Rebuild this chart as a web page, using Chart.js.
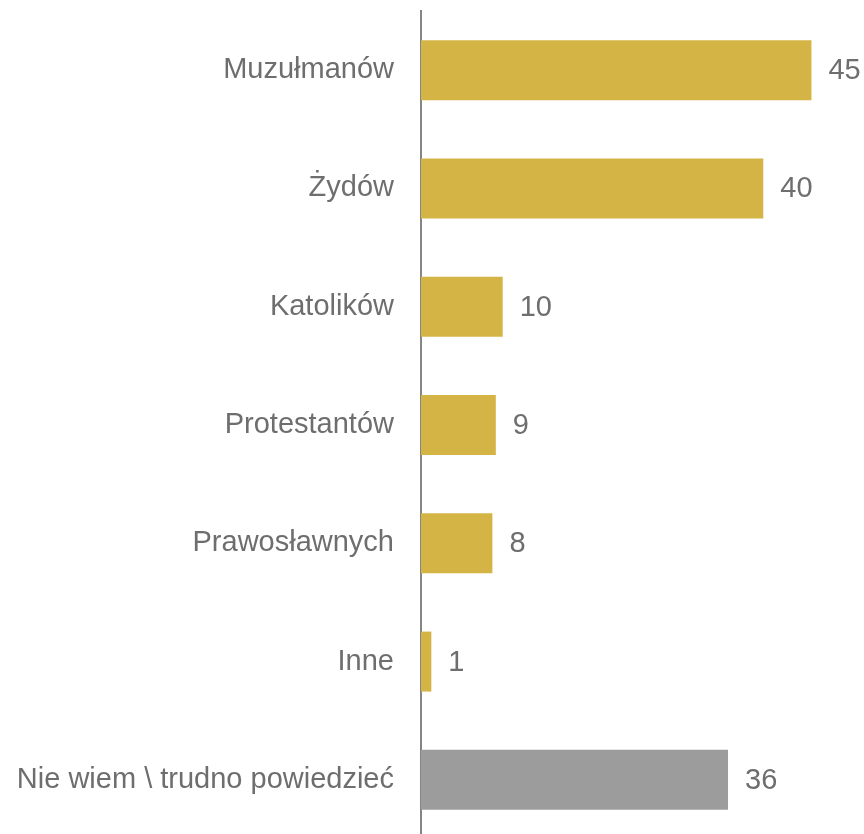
<!DOCTYPE html>
<html>
<head>
<meta charset="utf-8">
<script src="https://cdn.jsdelivr.net/npm/chart.js@4/dist/chart.umd.min.js"></script>
<style>
  html, body { margin: 0; padding: 0; background: #fff; overflow: hidden; }
  #wrap { width: 864px; height: 850px; }
</style>
</head>
<body>
<div id="wrap"><canvas id="myChart" width="864" height="850"></canvas></div>
<script>
// categories
const categories = [
  'Muzułmanów',
  'Żydów',
  'Katolików',
  'Protestantów',
  'Prawosławnych',
  'Inne',
  'Nie wiem \\ trudno powiedzieć'
];
// bar lengths
const values = [45.4, 39.8, 9.5, 8.7, 8.3, 1.2, 35.7];
// the printed numbers next to the bars
const valueLabels = ['45', '40', '10', '9', '8', '1', '36'];

const gold = '#D5B446';
const grey = '#9C9C9C';
const textColor = '#6E6E6E';
const fontFamily = '"Liberation Sans", Arial, sans-serif';

// numbers to the right of each bar
const valueLabelPlugin = {
  id: 'valueLabels',
  afterDatasetsDraw(chart) {
    const ctx = chart.ctx;
    const meta = chart.getDatasetMeta(0);
    ctx.save();
    ctx.font = '29px ' + fontFamily;
    ctx.fillStyle = textColor;
    ctx.textAlign = 'left';
    ctx.textBaseline = 'middle';
    meta.data.forEach(function (bar, i) {
      ctx.fillText(valueLabels[i], bar.x + 17, bar.y + 1);
    });
    ctx.restore();
  }
};

const myChart = new Chart(document.getElementById('myChart'), {
  type: 'bar',
  data: {
    labels: categories,
    datasets: [{
      data: values,
      backgroundColor: categories.map((c, i) => i === categories.length - 1 ? grey : gold),
      borderWidth: 0,
      categoryPercentage: 1,
      barPercentage: 0.507
    }]
  },
  options: {
    indexAxis: 'y',
    responsive: false,
    animation: false,
    layout: { padding: { top: 11, bottom: 11, left: 0, right: 13 } },
    plugins: {
      legend: { display: false },
      tooltip: { enabled: false }
    },
    scales: {
      x: {
        display: false,
        min: 0,
        max: 50
      },
      y: {
        afterFit: function (scale) {
          scale.width = 421;
          // no extra room for the first/last label
          scale.paddingTop = 0;
          scale.paddingBottom = 0;
        },
        grid: { display: false, drawTicks: false },
        border: { display: true, color: '#858585', width: 2 },
        ticks: {
          padding: 27,
          color: textColor,
          font: { size: 29, family: fontFamily }
        }
      }
    }
  },
  plugins: [valueLabelPlugin]
});
</script>
</body>
</html>
